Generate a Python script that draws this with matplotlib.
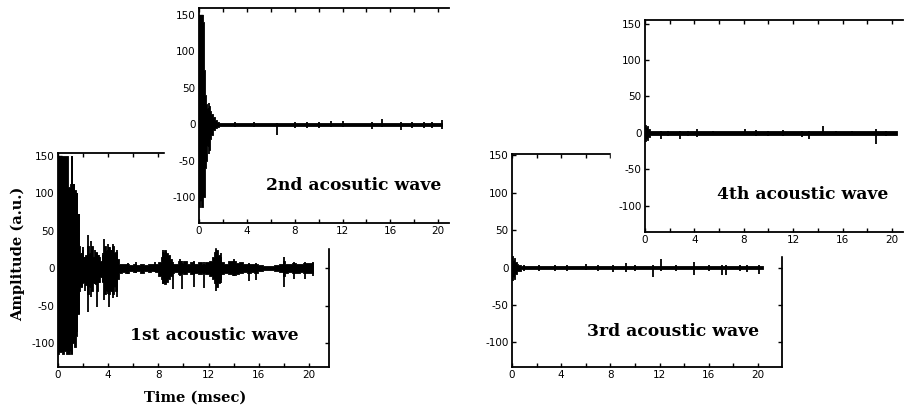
import matplotlib
matplotlib.use("Agg")
import matplotlib.pyplot as plt
from matplotlib.patches import Rectangle

plt.rcParams['axes.unicode_minus'] = False
plt.rcParams['font.family'] = ['Liberation Sans Narrow', 'DejaVu Sans']

# Each wave = a blocky envelope (band) plus single sharp peaks (spikes).
# time in msec, amplitude in a.u.

# 1st wave
band_t1 = [0.0, 0.2, 0.4, 0.6, 0.75, 0.9, 1.0, 1.1, 1.2, 1.35, 1.5, 1.6, 1.7, 1.8,
           1.95, 2.1, 2.25, 2.4, 2.55, 2.7, 2.85, 3.0, 3.15, 3.3, 3.45, 3.6, 3.75,
           3.9, 4.05, 4.2, 4.35, 4.5, 4.65, 4.8, 4.95, 5.2, 5.5, 5.8, 6.1, 6.4, 6.7,
           7.0, 7.3, 7.6, 7.9, 8.1, 8.25, 8.4, 8.55, 8.7, 8.85, 9.0, 9.15, 9.4, 9.7,
           9.9, 10.1, 10.4, 10.7, 11.0, 11.3, 11.6, 11.9, 12.2, 12.35, 12.5, 12.65,
           12.8, 12.95, 13.1, 13.4, 13.7, 14.0, 14.3, 14.6, 14.9, 15.2, 15.5, 15.8,
           16.1, 16.5, 17.0, 17.4, 17.8, 18.0, 18.2, 18.5, 18.8, 19.1, 19.4, 19.7,
           20.0, 20.3]
band_hi1 = [150, 150, 150, 150, 150, 108, 112, 150, 113, 105, 100, 73, 30, 20,
            25, 15, 18, 30, 20, 30, 15, 22, 18, 15, 10, 18, 30,
            25, 28, 25, 30, 20, 22, 12, 6, 5, 6, 4, 6, 4, 5,
            4, 5, 6, 5, 8, 15, 22, 24, 20, 18, 12, 6, 5, 10,
            7, 10, 5, 8, 6, 8, 6, 8, 10, 15, 22, 25,
            18, 15, 8, 6, 9, 10, 7, 8, 5, 6, 5, 6,
            4, 3, 3, 4, 6, 10, 6, 5, 7, 6, 5, 7,
            7, 7]
band_lo1 = [-115, -112, -115, -110, -115, -115, -110, -114, -100, -105, -90, -61, -30, -25,
            -20, -18, -22, -35, -25, -30, -20, -21, -30, -18, -12, -18, -35,
            -30, -34, -30, -35, -25, -30, -15, -6, -5, -6, -4, -5, -4, -6,
            -4, -5, -4, -5, -10, -15, -20, -21, -18, -15, -10, -6, -5, -8,
            -7, -8, -5, -8, -6, -8, -6, -8, -10, -14, -20, -25,
            -20, -15, -8, -6, -8, -9, -8, -7, -5, -6, -5, -6,
            -4, -3, -3, -4, -5, -10, -6, -5, -7, -6, -5, -7,
            -7, -7]
spike_t1 = [1.1, 1.3, 1.5, 1.65, 1.9, 2.0, 2.15, 2.4, 2.65, 2.8, 2.95, 3.1, 3.3, 3.55,
            3.7, 3.95, 4.1, 4.25, 4.4, 4.55, 4.7, 5.6, 6.2, 7.7, 8.4, 8.6, 9.2, 9.7,
            9.9, 10.8, 11.6, 12.6, 13.0, 14.0, 15.2, 15.8, 18.0, 18.8, 19.7, 20.3]
spike_hi1 = [150, 113, 100, 73, 20, 28, 15, 44, 37, 15, 24, 20, 18, 20,
             39, 33, 28, 25, 33, 20, 24, 7, 8, 8, 24, 22, 8, 12,
             10, 10, 8, 28, 20, 12, 7, 7, 15, 8, 8, 8]
spike_lo1 = [-114, -100, -85, -61, -25, -20, -30, -59, -39, -20, -21, -52, -20, -18,
             -43, -34, -52, -30, -40, -25, -39, -8, -6, -5, -21, -20, -28, -10,
             -28, -25, -27, -30, -20, -10, -17, -16, -25, -15, -15, -10]

# 2nd wave
band_t2 = [0.0, 0.12, 0.24, 0.36, 0.45, 0.55, 0.65, 0.75, 0.85, 0.95, 1.1, 1.25,
           1.4, 1.55, 1.8, 20.3]
band_hi2 = [150, 150, 150, 140, 75, 40, 28, 22, 25, 18, 14, 10, 6, 4, 2.5, 2.5]
band_lo2 = [-113, -105, -113, -100, -99, -60, -50, -30, -35, -20, -15, -8, -5, -4, -2.5, -2.5]
spike_t2 = [0.85, 3.0, 4.6, 6.5, 8.0, 9.0, 10.0, 11.0, 12.0, 14.5, 15.3, 16.9,
            17.8, 18.8, 19.5, 20.3]
spike_hi2 = [29, 4, 4, 2, 4, 3, 4, 5, 5, 4, 8, 3, 4, 4, 4, 6]
spike_lo2 = [-40, -4, -4, -15, -5, -5, -5, -4, -4, -6, -3, -7, -5, -5, -5, -6]

# 3rd wave
band_t3 = [0.0, 0.1, 0.2, 0.3, 0.45, 0.6, 0.8, 20.4]
band_hi3 = [15, 10, 13, 8, 5, 4, 2.5, 2.5]
band_lo3 = [-17, -12, -15, -8, -5, -4, -2.5, -2.5]
spike_t3 = [1.0, 2.2, 3.5, 4.5, 6.0, 7.0, 8.2, 9.3, 10.0, 11.5, 12.1, 13.3, 14.8,
            16.0, 17.1, 17.4, 18.5, 19.1, 20.1]
spike_hi3 = [4, 3, 3, 3, 5, 3, 3, 6, 4, 3, 12, 3, 8, 3, 3, 3, 3, 3, 3]
spike_lo3 = [-4, -5, -4, -4, -3, -4, -6, -6, -5, -12, -5, -4, -10, -4, -10, -10, -5, -6, -8]

# 4th wave
band_t4 = [0.0, 0.1, 0.2, 0.3, 0.45, 20.4]
band_hi4 = [11, 8, 10, 5, 2.5, 2.5]
band_lo4 = [-11, -9, -10, -5, -2.5, -2.5]
spike_t4 = [1.3, 1.9, 2.8, 3.5, 4.2, 5.5, 8.1, 9.0, 10.0, 11.2, 12.7, 13.3, 14.4,
            15.5, 16.8, 18.7, 19.5]
spike_hi4 = [2, 3, 2, 3, 5, 3, 5, 4, 3, 4, 2, 2, 9, 3, 3, 5, 3]
spike_lo4 = [-8, -4, -8, -4, -5, -3, -3, -4, -4, -4, -6, -8, -3, -3, -3, -15, -4]

labels = ['1st acoustic wave', '2nd acosutic wave', '3rd acoustic wave', '4th acoustic wave']
xmajor = [0, 4, 8, 12, 16, 20]
xminor = [2, 6, 10, 14, 18]
yticks = [-100, -50, 0, 50, 100, 150]

W, H = 907, 411
fig = plt.figure(figsize=(W / 100, H / 100), dpi=100)
serif = dict(family='DejaVu Serif', weight='bold')


def px_axes(left, top, right, bottom, z):
    ax = fig.add_axes([left / W, 1 - bottom / H, (right - left) / W, (bottom - top) / H])
    ax.set_zorder(z)
    return ax


def style(ax, xmax, ymin, ymax, right_spine=True):
    ax.set_xlim(0, xmax)
    ax.set_ylim(ymin, ymax)
    ax.set_xticks(xmajor)
    ax.set_xticks(xminor, minor=True)
    ax.set_yticks(yticks)
    ax.tick_params(which='both', direction='in', top=True, right=right_spine,
                   length=3, width=1, labelsize=7.5, pad=2.5)
    for s in ax.spines.values():
        s.set_linewidth(1.3)
    ax.spines['right'].set_visible(right_spine)


def wave(ax, bt, bhi, blo, st, shi, slo, label, tx, ty):
    ax.fill_between(bt, blo, bhi, step='mid', color='black', lw=0.6)
    ax.vlines(st, slo, shi, color='black', lw=1.3)
    ax.text(tx, ty, label, fontsize=12.3, va='center', **serif)


# back row
ax1 = px_axes(58, 153, 329, 367, 0)
style(ax1, 21.6, -132, 154)
wave(ax1, band_t1, band_hi1, band_lo1, spike_t1, spike_hi1, spike_lo1, labels[0], 5.7, -90)

ax3 = px_axes(512, 154, 782, 367, 0)
style(ax3, 21.95, -133, 152)
wave(ax3, band_t3, band_hi3, band_lo3, spike_t3, spike_hi3, spike_lo3, labels[2], 6.1, -85)

fig.text(195 / W, 1 - 398 / H, 'Time (msec)', fontsize=10.5, ha='center', va='center', **serif)
fig.text(18 / W, 1 - 254 / H, 'Amplitude (a.u.)', fontsize=10.5, rotation=90,
         ha='center', va='center', **serif)

# white cards behind the front panels
fig.add_artist(Rectangle((165 / W, 1 - 247 / H), 300 / W, 247 / H,
                         transform=fig.transFigure, color='white', zorder=1))
fig.add_artist(Rectangle((611 / W, 1 - 255 / H), 296 / W, 255 / H,
                         transform=fig.transFigure, color='white', zorder=1))

# front row
ax2 = px_axes(199, 8, 449, 223, 2)
style(ax2, 20.9, -135, 159.5, right_spine=False)
wave(ax2, band_t2, band_hi2, band_lo2, spike_t2, spike_hi2, spike_lo2, labels[1], 5.6, -83)

ax4 = px_axes(645, 20, 903, 232, 2)
style(ax4, 20.9, -136, 155, right_spine=False)
wave(ax4, band_t4, band_hi4, band_lo4, spike_t4, spike_hi4, spike_lo4, labels[3], 5.8, -85)

fig.savefig('out.png', dpi=100, facecolor='white')
